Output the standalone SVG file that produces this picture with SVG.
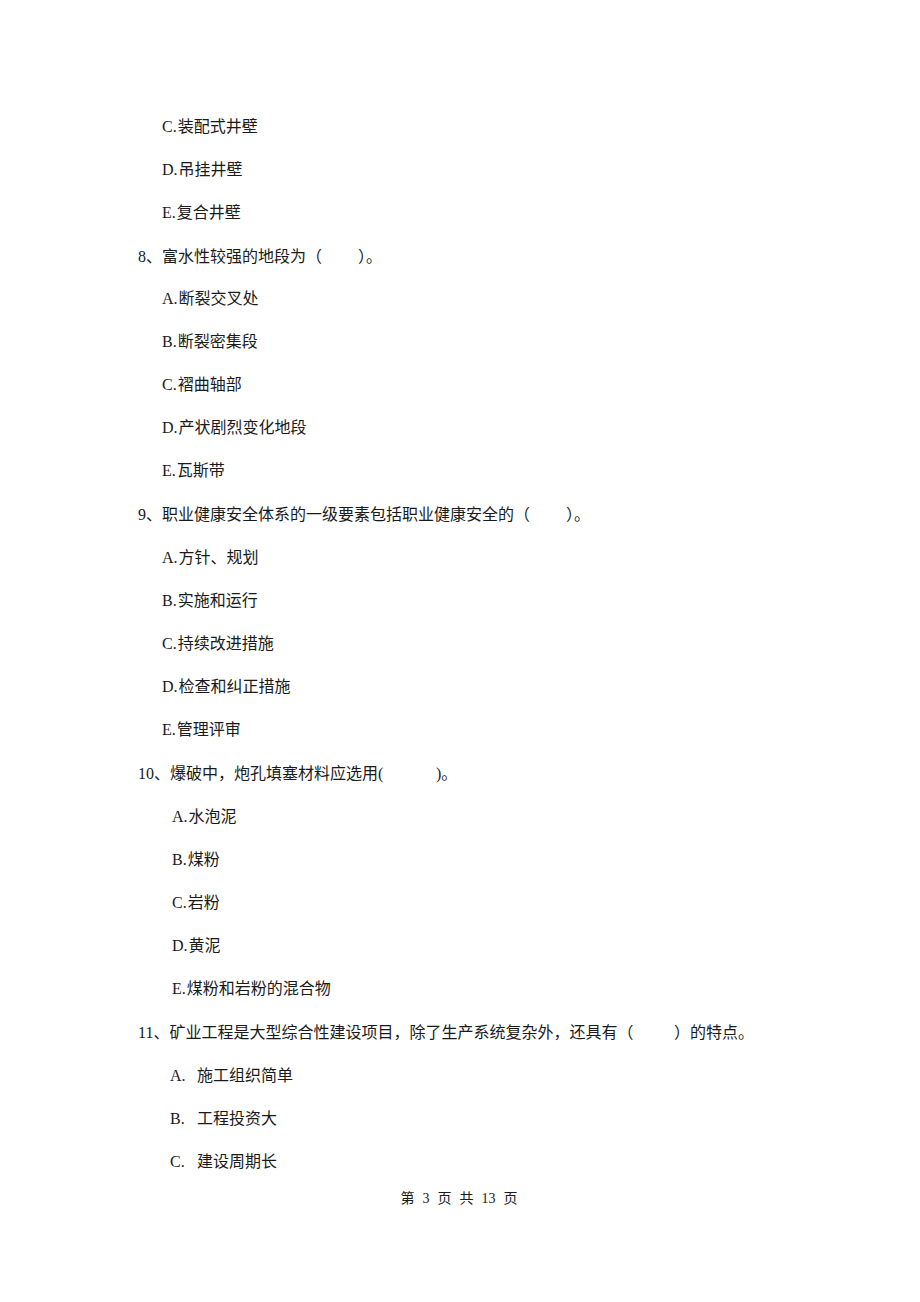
<svg xmlns="http://www.w3.org/2000/svg" width="920" height="1302" viewBox="0 0 920 1302">
<style>
.q{font-family:"Liberation Serif","Noto Sans CJK SC",sans-serif;font-size:16px;fill:#1a1a1a}
.o{font-family:"Liberation Serif","Noto Sans CJK SC",serif;font-size:16px;fill:#1a1a1a}
.f{font-family:"Liberation Serif","Noto Sans CJK SC",serif;font-size:14px;fill:#1a1a1a;word-spacing:4.5px}
</style>
<rect width="920" height="1302" fill="#ffffff"/>
<g id="q7">
<text class="o" x="162" y="132">C.<tspan dx="1">装配式井壁</tspan></text>
<text class="o" x="162" y="175">D.<tspan dx="1">吊挂井壁</tspan></text>
<text class="o" x="162" y="218">E.<tspan dx="1">复合井壁</tspan></text>
</g>
<g id="q8">
<text class="q" x="138" y="262">8、富水性较强的地段为（<tspan x="358">）。</tspan></text>
<text class="o" x="162" y="304">A.<tspan dx="1">断裂交叉处</tspan></text>
<text class="o" x="162" y="347">B.<tspan dx="1">断裂密集段</tspan></text>
<text class="o" x="162" y="390">C.<tspan dx="1">褶曲轴部</tspan></text>
<text class="o" x="162" y="433">D.<tspan dx="1">产状剧烈变化地段</tspan></text>
<text class="o" x="162" y="476">E.<tspan dx="1">瓦斯带</tspan></text>
</g>
<g id="q9">
<text class="q" x="138" y="520">9、职业健康安全体系的一级要素包括职业健康安全的（<tspan x="566">）。</tspan></text>
<text class="o" x="162" y="563">A.<tspan dx="1">方针、规划</tspan></text>
<text class="o" x="162" y="606">B.<tspan dx="1">实施和运行</tspan></text>
<text class="o" x="162" y="649">C.<tspan dx="1">持续改进措施</tspan></text>
<text class="o" x="162" y="692">D.<tspan dx="1">检查和纠正措施</tspan></text>
<text class="o" x="162" y="735">E.<tspan dx="1">管理评审</tspan></text>
</g>
<g id="q10">
<text class="q" x="138" y="779">10、爆破中，炮孔填塞材料应选用(<tspan x="436">)。</tspan></text>
<text class="o" x="172" y="822">A.<tspan dx="1">水泡泥</tspan></text>
<text class="o" x="172" y="865">B.<tspan dx="1">煤粉</tspan></text>
<text class="o" x="172" y="908">C.<tspan dx="1">岩粉</tspan></text>
<text class="o" x="172" y="951">D.<tspan dx="1">黄泥</tspan></text>
<text class="o" x="172" y="994">E.<tspan dx="1">煤粉和岩粉的混合物</tspan></text>
</g>
<g id="q11">
<text class="q" x="138" y="1038">11、矿业工程是大型综合性建设项目，除了生产系统复杂外，还具有（<tspan x="674">）的特点。</tspan></text>
<text class="o" x="170" y="1081">A.<tspan x="197">施工组织简单</tspan></text>
<text class="o" x="170" y="1124">B.<tspan x="197">工程投资大</tspan></text>
<text class="o" x="170" y="1167">C.<tspan x="197">建设周期长</tspan></text>
</g>
<g id="footer">
<text class="f" x="459" y="1203" text-anchor="middle">第 3 页 共 13 页</text>
</g>
</svg>
